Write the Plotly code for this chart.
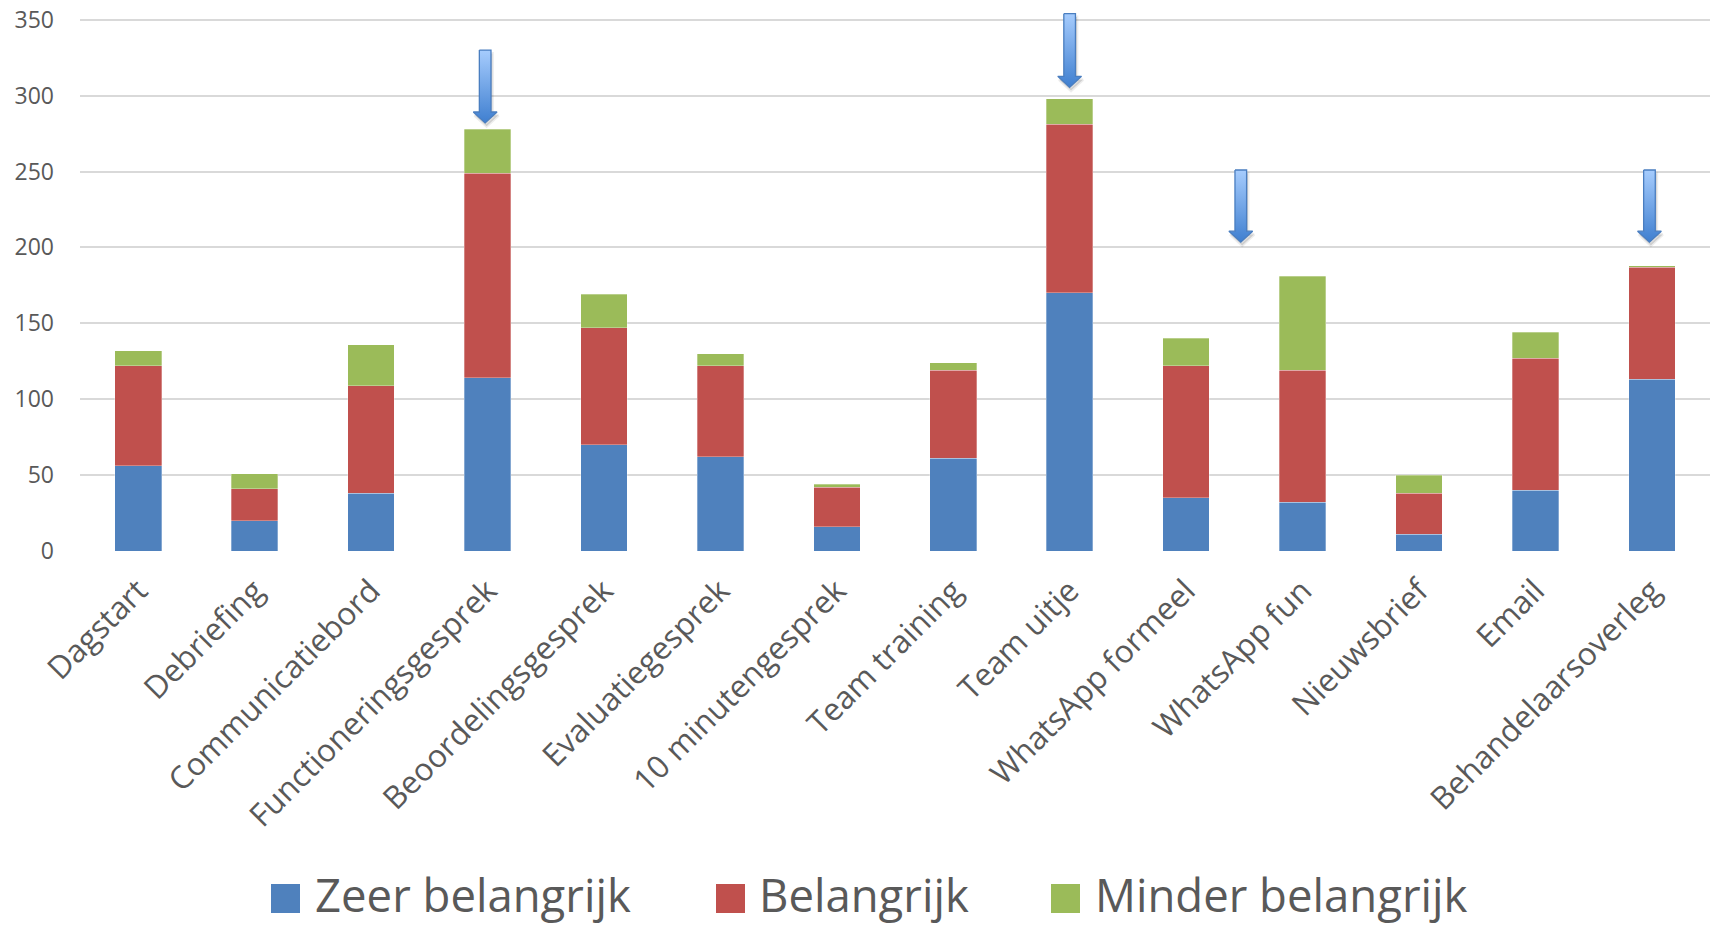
import plotly.graph_objects as go

categories = ["Dagstart", "Debriefing", "Communicatiebord", "Functioneringsgesprek",
              "Beoordelingsgesprek", "Evaluatiegesprek", "10 minutengesprek", "Team training",
              "Team uitje", "WhatsApp formeel", "WhatsApp fun", "Nieuwsbrief", "Email",
              "Behandelaarsoverleg"]
zeer_belangrijk = [56, 20, 38, 114, 70, 62, 16, 61, 170, 35, 32, 11, 40, 113]
belangrijk = [66, 21, 71, 135, 77, 60, 26, 58, 111, 87, 87, 27, 87, 74]
minder_belangrijk = [10, 10, 27, 29, 22, 8, 2, 5, 17, 18, 62, 12, 17, 1]
series_names = ["Zeer belangrijk", "Belangrijk", "Minder belangrijk"]
series_colors = ["#4F81BD", "#C0504D", "#9BBB59"]

# highlight arrows (category position, top value, tip value)
arrow_pos = [2.98, 8.0, 9.47, 12.98]
arrow_top = [330, 354, 251, 251]
arrow_tip = [282, 305.5, 203.5, 203.5]

W, H = 1710, 927
ML, MR, MT, MB = 80, 0, 7, 376
FONT = "Open Sans"

fig = go.Figure()
for name, vals, col in zip(series_names, [zeer_belangrijk, belangrijk, minder_belangrijk], series_colors):
    fig.add_trace(go.Bar(x=categories, y=vals, name=name, marker_color=col,
                         marker_line_width=0.6, marker_line_color="rgba(255,255,255,0.5)",
                         showlegend=False))

shaft_hw, head_hw, head_h = 0.05, 0.102, 7.2
for xc, top, tip in zip(arrow_pos, arrow_top, arrow_tip):
    base = tip + head_h
    xs = [xc - shaft_hw, xc + shaft_hw, xc + shaft_hw, xc + head_hw, xc, xc - head_hw, xc - shaft_hw, xc - shaft_hw]
    ys = [top, top, base, base, tip, base, base, top]
    # soft shadow
    fig.add_trace(go.Scatter(x=[v + 0.012 for v in xs], y=[v - 2.2 for v in ys], xaxis="x2", yaxis="y",
                             mode="lines", fill="toself", fillcolor="rgba(0,0,0,0.13)",
                             line=dict(width=3, color="rgba(0,0,0,0.07)"),
                             hoverinfo="skip", showlegend=False))
    fig.add_trace(go.Scatter(x=xs, y=ys, xaxis="x2", yaxis="y", mode="lines", fill="toself",
                             fillgradient=dict(type="vertical",
                                               colorscale=[[0, "#3F7FD0"], [1, "#A6CCFD"]]),
                             line=dict(width=1.3, color="#4A7EC0"),
                             hoverinfo="skip", showlegend=False))

# custom legend
plot_w = W - ML - MR
plot_h = H - MT - MB
def px_x(p):
    return (p - ML) / plot_w
def px_y(p):
    return (H - MB - p) / plot_h

legend_sq_left = [271, 716, 1051]
legend_txt_left = [313, 757, 1093]
for name, col, sq, tx in zip(series_names, series_colors, legend_sq_left, legend_txt_left):
    fig.add_shape(type="rect", xref="paper", yref="paper",
                  x0=px_x(sq), x1=px_x(sq + 29), y0=px_y(913), y1=px_y(884),
                  fillcolor=col, line_width=0)
    fig.add_annotation(xref="paper", yref="paper", x=px_x(tx), y=px_y(894),
                       xanchor="left", yanchor="middle", text=name, showarrow=False,
                       font=dict(family=FONT, size=45.5, color="#595959"))

fig.update_layout(
    width=W, height=H,
    margin=dict(l=ML, r=MR, t=MT, b=MB),
    barmode="stack", bargap=0.6,
    plot_bgcolor="white", paper_bgcolor="white",
    font=dict(family=FONT, color="#595959"),
    xaxis=dict(type="category", range=[-0.5, 13.5], tickangle=-45, ticks="",
               ticklabelstandoff=14,
               tickfont=dict(size=31.5, color="#595959"), showgrid=False, showline=False,
               zeroline=False),
    xaxis2=dict(overlaying="x", range=[-0.5, 13.5], visible=False),
    yaxis=dict(range=[0, plot_h / 1.518], dtick=50, tick0=0, showgrid=True,
               gridcolor="#D9D9D9", gridwidth=1.5, zeroline=False, showline=False,
               ticks="", ticklabelstandoff=25, tickfont=dict(size=23, color="#595959")),
)

fig.write_html("out.html", config={"displayModeBar": False},
               post_script="document.body.style.margin='0';document.body.style.overflow='hidden';")
